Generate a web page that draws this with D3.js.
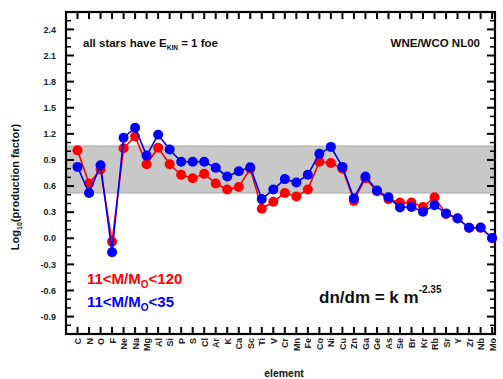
<!DOCTYPE html>
<html><head><meta charset="utf-8">
<script src="https://cdn.jsdelivr.net/npm/d3@7"></script>
<style>body{margin:0;background:#fff;} svg{display:block;font-family:Arial,"Liberation Sans",sans-serif;}</style>
</head><body><svg id="c" width="503" height="379"></svg>
<script>
const elements = ["C","N","O","F","Ne","Na","Mg","Al","Si","P","S","Cl","Ar","K","Ca","Sc","Ti","V","Cr","Mn","Fe","Co","Ni","Cu","Zn","Ga","Ge","As","Se","Br","Kr","Rb","Sr","Y","Zr","Nb","Mo"];
const red120 = [1.01,0.63,0.79,-0.04,1.035,1.17,0.85,1.04,0.85,0.73,0.69,0.74,0.63,0.56,0.59,0.80,0.34,0.42,0.52,0.48,0.56,0.88,0.865,0.80,0.43,0.69,0.54,0.45,0.41,0.41,0.36,0.47,0.28,0.23,0.12,0.12,0.0];
const blue35 = [0.82,0.52,0.84,-0.16,1.155,1.27,0.95,1.19,1.02,0.88,0.88,0.88,0.81,0.71,0.77,0.815,0.45,0.56,0.68,0.64,0.73,0.97,1.05,0.82,0.46,0.71,0.55,0.47,0.355,0.36,0.305,0.38,0.286,0.228,0.12,0.124,0.004];
const yMajorTicks = [-0.9,-0.6,-0.3,0.0,0.3,0.6,0.9,1.2,1.5,1.8,2.1,2.4];
const band = [0.52,1.06];

const svg = d3.select("#c");
const L=66,R=495,T=12,B=334;
const x = d3.scaleLinear().domain([-1,36.25]).range([L,R]);
const y = d3.scaleLinear().domain([-1.1,2.6]).range([B,T]);
const idx = d3.range(elements.length);

// band
svg.append("rect").attr("x",L).attr("width",R-L).attr("y",y(band[1])).attr("height",y(band[0])-y(band[1]))
  .attr("fill","#c8c8c8").attr("stroke","#a8a8a8").attr("stroke-width",1);

// minor ticks
const minor = d3.range(-11,27).map(d=>d/10).filter(v=>!yMajorTicks.some(m=>Math.abs(m-v)<1e-6));
const g = svg.append("g").attr("stroke","#000");
yMajorTicks.forEach(v=>{
  g.append("line").attr("x1",L).attr("x2",L+8).attr("y1",y(v)).attr("y2",y(v)).attr("stroke-width",2);
  g.append("line").attr("x1",R).attr("x2",R-8).attr("y1",y(v)).attr("y2",y(v)).attr("stroke-width",2);
});
minor.forEach(v=>{
  g.append("line").attr("x1",L).attr("x2",L+5).attr("y1",y(v)).attr("y2",y(v)).attr("stroke-width",1.5);
  g.append("line").attr("x1",R).attr("x2",R-5).attr("y1",y(v)).attr("y2",y(v)).attr("stroke-width",1.5);
});
idx.forEach(i=>{
  g.append("line").attr("x1",x(i)).attr("x2",x(i)).attr("y1",B).attr("y2",B-7).attr("stroke-width",2);
  g.append("line").attr("x1",x(i)).attr("x2",x(i)).attr("y1",T).attr("y2",T+7).attr("stroke-width",2);
});
// frame
svg.append("rect").attr("x",L).attr("y",T).attr("width",R-L).attr("height",B-T).attr("fill","none").attr("stroke","#000").attr("stroke-width",2.2);

// y labels
svg.append("g").selectAll("text").data(yMajorTicks).join("text")
  .attr("x",56).attr("y",d=>y(d)).attr("dy","0.35em").attr("text-anchor","end")
  .attr("font-size",9).attr("font-weight","bold").attr("fill","#222").text(d=>d.toFixed(1));

// x labels
svg.append("g").selectAll("text").data(idx).join("text")
  .attr("transform",i=>`translate(${x(i)+3.5},338) rotate(-90)`).attr("text-anchor","end")
  .attr("font-size",9).attr("font-weight","bold").attr("fill","#222").text(i=>elements[i]);

// axis titles
const yt = svg.append("text").attr("transform","translate(19,187) rotate(-90)").attr("text-anchor","middle")
  .attr("font-size",11).attr("font-weight","bold").attr("fill","#111");
yt.append("tspan").text("Log");
yt.append("tspan").attr("font-size",7).attr("dy",3).text("10");
yt.append("tspan").attr("dy",-3).text("(production factor)");
svg.append("text").attr("x",284).attr("y",377).attr("text-anchor","middle").attr("font-size",10.5).attr("font-weight","bold").attr("fill","#111").text("element");

// series
const line = d3.line().x((d,i)=>x(i)).y(d=>y(d));
[[red120,"#ff0000"],[blue35,"#0000ff"]].forEach(([vals,col])=>{
  svg.append("path").datum(vals).attr("d",line).attr("fill","none").attr("stroke",col).attr("stroke-width",1.6);
  svg.append("g").selectAll("circle").data(vals).join("circle")
    .attr("cx",(d,i)=>x(i)).attr("cy",d=>y(d)).attr("r",5).attr("fill",col);
});

// annotations
const t1 = svg.append("text").attr("x",83).attr("y",47).attr("font-size",11.5).attr("font-weight","bold").attr("fill","#111");
t1.append("tspan").text("all stars have E");
t1.append("tspan").attr("font-size",6.5).attr("dy",3).text("KIN");
t1.append("tspan").attr("dy",-3).text(" = 1 foe");
svg.append("text").attr("x",480).attr("y",47).attr("text-anchor","end").attr("font-size",11.5).attr("font-weight","bold").attr("fill","#111").text("WNE/WCO NL00");

const t2 = svg.append("text").attr("x",319).attr("y",303).attr("font-size",17).attr("font-weight","bold").attr("fill","#111");
t2.append("tspan").text("dn/dm = k m");
t2.append("tspan").attr("font-size",10).attr("dy",-10).text("-2.35");

function legend(txt1,txt2,yy,col){
  const t = svg.append("text").attr("x",87).attr("y",yy).attr("font-size",15).attr("font-weight","bold").attr("fill",col);
  t.append("tspan").text(txt1);
  t.append("tspan").attr("font-size",10).attr("dy",4).text("O");
  t.append("tspan").attr("dy",-4).text(txt2);
}
legend("11<M/M","<120",284,"#ff0000");
legend("11<M/M","<35",307,"#0000ff");
</script></body></html>
